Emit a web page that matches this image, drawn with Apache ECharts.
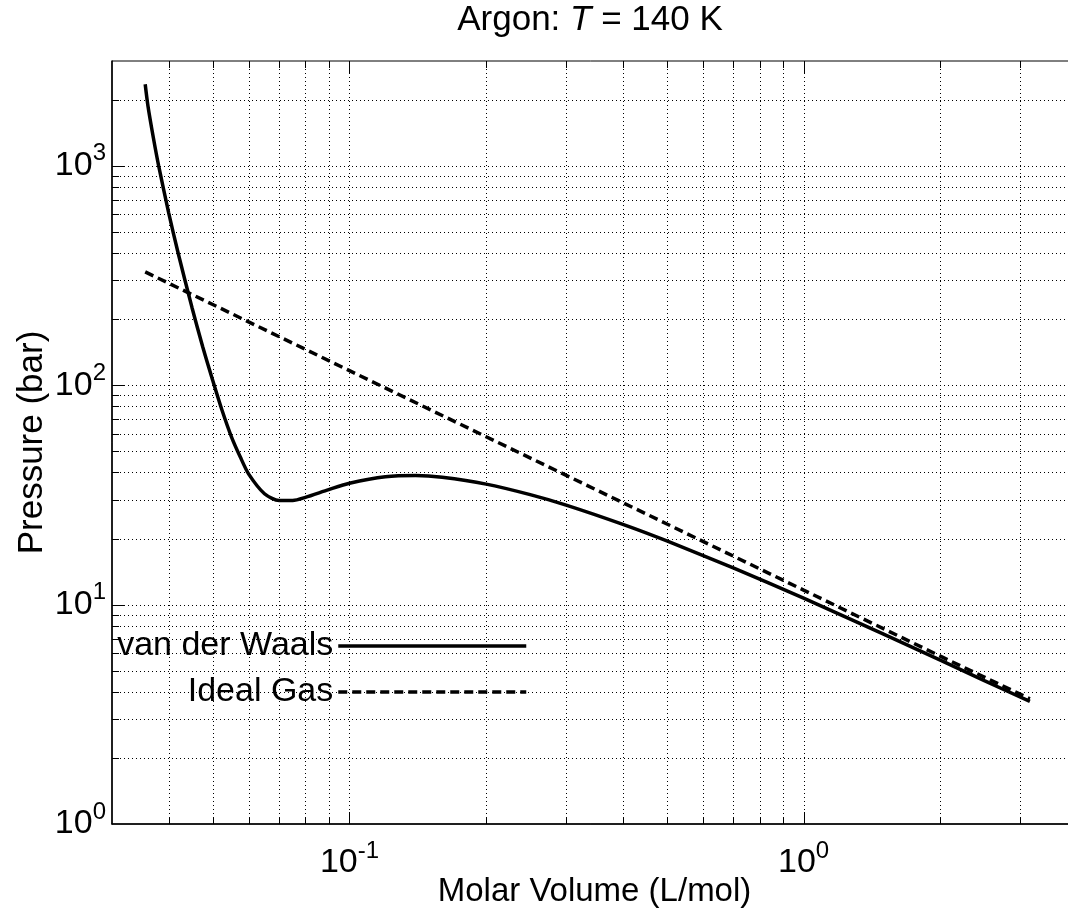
<!DOCTYPE html>
<html>
<head>
<meta charset="utf-8">
<script src="https://cdn.jsdelivr.net/npm/echarts@6/dist/echarts.min.js"></script>
<style>
html, body { margin: 0; padding: 0; background: #fff; }
#chart { width: 1068px; height: 917px; }
</style>
</head>
<body>
<div id="chart"></div>
<script>
// ---- chart content ----
const titleText = 'Argon: {i|T} = 140 K';
const xAxisName = 'Molar Volume (L/mol)';
const yAxisName = 'Pressure (bar)';
const seriesNames = ['van der Waals', 'Ideal Gas'];
const xRange = [0.03, 4];
const yRange = [1, 3000];

// van der Waals isotherm
const molarVolume = [0.0355, 0.036, 0.037, 0.038, 0.04, 0.042, 0.045, 0.0475, 0.05, 0.0525, 0.055, 0.0575,
  0.06, 0.065, 0.07, 0.075, 0.08, 0.09, 0.1, 0.12, 0.14, 0.16, 0.2, 0.25, 0.3, 0.4, 0.5, 0.7, 1.0, 1.5, 2.0, 2.5, 3.15];
const pressureVdW = [2350, 1870, 1340, 1000, 608, 396, 226, 150, 105, 76, 58, 47,
  39.3, 32.0, 29.8, 29.8, 30.8, 33.4, 35.7, 38.2, 38.7, 38.0, 35.4, 31.7, 28.4, 23.2, 19.5, 14.7, 10.7, 7.33, 5.58, 4.50, 3.62];

// ideal gas line
const idealVolume = [0.0355, 0.05, 0.1, 0.2, 0.5, 1.0, 2.0, 3.15];
const pressureIdeal = [328, 233, 116.4, 58.2, 23.3, 11.64, 5.82, 3.72];

// grid line positions (log decades)
const xGridValues = [0.04, 0.05, 0.06, 0.07, 0.08, 0.09, 0.1, 0.2, 0.3, 0.4, 0.5, 0.6, 0.7, 0.8, 0.9, 1, 2, 3, 4];
const yGridValues = [2, 3, 4, 5, 6, 7, 8, 9, 10, 20, 30, 40, 50, 60, 70, 80, 90, 100, 200, 300, 400, 500, 600, 700, 800, 900, 1000, 2000];

// ---- rendering ----
const FONT = '"Liberation Sans", Arial, Helvetica, sans-serif';

function isPow10(v) {
  const l = Math.log10(v);
  return Math.abs(l - Math.round(l)) < 1e-6;
}
function powLabel(v) {
  if (!isPow10(v)) return '';
  return '{b|10}{s|' + Math.round(Math.log10(v)) + '}';
}
const labelRich = {
  b: { fontSize: 34, fontFamily: FONT, color: '#000', lineHeight: 48 },
  s: { fontSize: 24, fontFamily: FONT, color: '#000', lineHeight: 24, verticalAlign: 'top' }
};

function renderXGrid(params, api) {
  const v = api.value(0);
  const p = api.coord([v, yRange[0]]);
  const cs = params.coordSys;
  const x = Math.round(p[0]) + 0.5;
  const len = isPow10(v) ? 12 : 7;
  return {
    type: 'group',
    children: [
      { type: 'line', shape: { x1: x, y1: cs.y, x2: x, y2: cs.y + cs.height },
        style: { stroke: '#000', lineWidth: 1, lineDash: [1, 3] } },
      { type: 'line', shape: { x1: x, y1: cs.y + cs.height, x2: x, y2: cs.y + cs.height - len },
        style: { stroke: '#000', lineWidth: 1 } },
      { type: 'line', shape: { x1: x, y1: cs.y, x2: x, y2: cs.y + len },
        style: { stroke: '#000', lineWidth: 1 } }
    ]
  };
}
function renderYGrid(params, api) {
  const v = api.value(1);
  const p = api.coord([xRange[0], v]);
  const cs = params.coordSys;
  const y = Math.round(p[1]) + 0.5;
  const len = isPow10(v) ? 12 : 7;
  return {
    type: 'group',
    children: [
      { type: 'line', shape: { x1: cs.x, y1: y, x2: cs.x + cs.width, y2: y },
        style: { stroke: '#000', lineWidth: 1, lineDash: [1, 3] } },
      { type: 'line', shape: { x1: cs.x, y1: y, x2: cs.x + len, y2: y },
        style: { stroke: '#000', lineWidth: 1 } }
    ]
  };
}

const chart = echarts.init(document.getElementById('chart'), null, { renderer: 'canvas' });
chart.setOption({
  animation: false,
  backgroundColor: '#fff',
  title: {
    text: titleText,
    left: 590,
    top: 0,
    padding: 0,
    textAlign: 'center',
    textStyle: {
      fontSize: 35, fontFamily: FONT, fontWeight: 'normal', color: '#000', lineHeight: 40,
      rich: { i: { fontSize: 35, fontFamily: FONT, fontStyle: 'italic', color: '#000', lineHeight: 40 } }
    }
  },
  grid: {
    left: 112, right: -9, top: 61, bottom: 93,
    outerBoundsMode: 'none',
    containLabel: false,
    show: true, borderColor: '#000', borderWidth: 1, backgroundColor: 'transparent'
  },
  legend: {
    data: seriesNames,
    orient: 'vertical',
    align: 'right',
    right: 540,
    top: 626,
    padding: 0,
    itemWidth: 188,
    itemHeight: 40,
    itemGap: 6,
    selectedMode: false,
    lineStyle: { width: 3.5 },
    itemStyle: { opacity: 0 },
    textStyle: { fontSize: 34, fontFamily: FONT, color: '#000', lineHeight: 40 }
  },
  xAxis: {
    type: 'log',
    logBase: 10,
    min: xRange[0],
    max: xRange[1],
    name: xAxisName,
    nameLocation: 'middle',
    nameGap: 48,
    nameMoveOverlap: false,
    nameTextStyle: { fontSize: 33, fontFamily: FONT, color: '#000', lineHeight: 40 },
    axisLine: { show: true, lineStyle: { color: '#000', width: 1.5 } },
    axisTick: { show: false },
    splitLine: { show: false },
    minorTick: { show: false },
    axisLabel: {
      show: true, margin: 15, showMinLabel: false, showMaxLabel: false,
      formatter: powLabel, rich: labelRich
    }
  },
  yAxis: {
    type: 'log',
    logBase: 10,
    min: yRange[0],
    max: yRange[1],
    name: yAxisName,
    nameLocation: 'middle',
    nameGap: 60,
    nameMoveOverlap: false,
    nameTextStyle: { fontSize: 35, fontFamily: FONT, color: '#000', lineHeight: 40 },
    axisLine: { show: true, lineStyle: { color: '#000', width: 1.5 } },
    axisTick: { show: false },
    splitLine: { show: false },
    minorTick: { show: false },
    axisLabel: {
      show: true, margin: 6, showMaxLabel: false,
      formatter: powLabel, rich: labelRich
    }
  },
  series: [
    {
      type: 'custom', silent: true, z: 1,
      renderItem: renderXGrid,
      data: xGridValues.map(v => [v, yRange[0]])
    },
    {
      type: 'custom', silent: true, z: 1,
      renderItem: renderYGrid,
      data: yGridValues.map(v => [xRange[0], v])
    },
    {
      name: seriesNames[0],
      type: 'line',
      z: 5,
      showSymbol: false,
      symbol: 'none',
      smooth: 0.25,
      lineStyle: { color: '#000', width: 3.5 },
      itemStyle: { color: '#000' },
      data: molarVolume.map((v, i) => [v, pressureVdW[i]])
    },
    {
      name: seriesNames[1],
      type: 'line',
      z: 5,
      showSymbol: false,
      symbol: 'none',
      lineStyle: { color: '#000', width: 3.5, type: [9, 5] },
      itemStyle: { color: '#000' },
      data: idealVolume.map((v, i) => [v, pressureIdeal[i]])
    }
  ]
});
</script>
</body>
</html>
